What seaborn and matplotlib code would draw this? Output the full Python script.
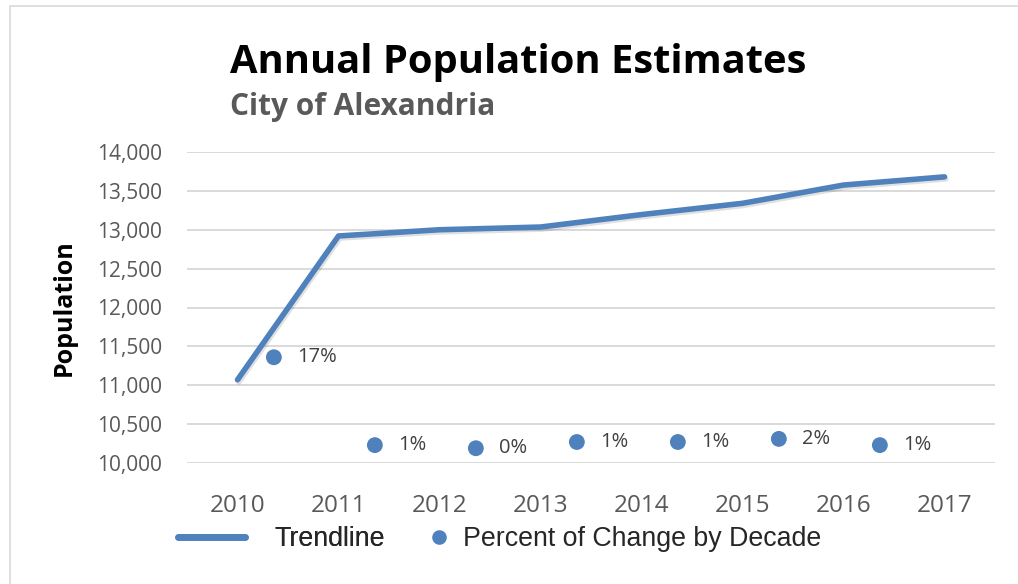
import matplotlib
matplotlib.use("Agg")
import matplotlib.pyplot as plt
import matplotlib.patheffects as pe
import seaborn as sns
import pandas as pd
import numpy as np
from matplotlib.patches import Rectangle
from matplotlib.lines import Line2D

years = ["2010", "2011", "2012", "2013", "2014", "2015", "2016", "2017"]
population = [11070, 12920, 13000, 13035, 13195, 13340, 13575, 13680]
change_values = [11360, 10230, 10190, 10270, 10270, 10310, 10230]
change_labels = ["17%", "1%", "0%", "1%", "1%", "2%", "1%"]
y_ticks = [10000, 10500, 11000, 11500, 12000, 12500, 13000, 13500, 14000]

sns.set_theme(style="white")
plt.rcParams['font.family'] = ['Open Sans', 'DejaVu Sans']

BLUE = "#4F81BD"
fig = plt.figure(figsize=(10.18, 5.84), dpi=100)
ax = fig.add_axes([187/1018, 121/584, 808/1018, 311/584])

df = pd.DataFrame({"pos": np.arange(len(years)), "pop": population})
sns.lineplot(data=df, x="pos", y="pop", ax=ax, color=BLUE, linewidth=4.0,
             solid_capstyle="round", solid_joinstyle="round", zorder=3)
ax.lines[0].set_path_effects([pe.SimpleLineShadow(offset=(1.0, -1.5), alpha=0.12,
                                                  shadow_color="black"), pe.Normal()])

dfc = pd.DataFrame({"pos": np.arange(len(change_values)) + 0.36, "val": change_values})
sns.scatterplot(data=dfc, x="pos", y="val", ax=ax, color=BLUE, s=130,
                edgecolor="none", zorder=4)
for p, v, lab in zip(dfc["pos"], change_values, change_labels):
    ax.annotate(lab, (p, v), xytext=(17, 0), textcoords="offset points",
                va="center", ha="left", fontsize=14.5, color="#404040")

ax.set_xlim(-0.5, len(years) - 0.5)
ax.set_ylim(10000, 14000)
ax.set_yticks(y_ticks)
ax.set_yticklabels([f"{t:,}" for t in y_ticks])
ax.set_xticks(range(len(years)))
ax.set_xticklabels(years)
ax.tick_params(axis="both", colors="#595959", length=0)
ax.tick_params(axis="x", pad=22, labelsize=17.5)
ax.tick_params(axis="y", pad=18, labelsize=15)
ax.grid(axis="y", color="#D9D9D9", linewidth=1.4)
ax.grid(axis="x", visible=False)
for s in ax.spines.values():
    s.set_visible(False)
ax.set_xlabel("")
ax.set_ylabel("Population", fontsize=18, fontweight="bold", color="black")
ax.yaxis.set_label_coords(-0.137, 0.5)

fig.text(230/1018, 1 - 62/584, "Annual Population Estimates", fontsize=28.7,
         fontweight="bold", color="black", va="center", ha="left")
fig.text(230/1018, 1 - 107/584, "City of Alexandria", fontsize=21.5,
         fontweight="bold", color="#595959", va="center", ha="left")

# border
fig.patches.append(Rectangle((10/1018, -0.1), 1.2, 1 - 6/584 + 0.1, transform=fig.transFigure,
                             fill=False, edgecolor="#D9D9D9", linewidth=1.2))

legend_font = {"family": "Liberation Sans", "size": 19.3}
leg1 = fig.legend([Line2D([0], [0], color=BLUE, linewidth=4.8)], ["Trendline"],
                  loc="center left", bbox_to_anchor=(170/1018, 1 - 539/584),
                  frameon=False, handlelength=2.5, handletextpad=1.1,
                  borderaxespad=0, borderpad=0.3, prop=legend_font)
leg2 = fig.legend([Line2D([0], [0], marker="o", color="none", markerfacecolor=BLUE,
                          markeredgecolor="none", markersize=10.5)],
                  ["Percent of Change by Decade"],
                  loc="center left", bbox_to_anchor=(420/1018, 1 - 539/584),
                  frameon=False, handlelength=0.8, handletextpad=0.5, numpoints=1,
                  borderaxespad=0, borderpad=0.3, prop=legend_font)
fig.add_artist(leg1)

fig.savefig("out.png", dpi=100)
